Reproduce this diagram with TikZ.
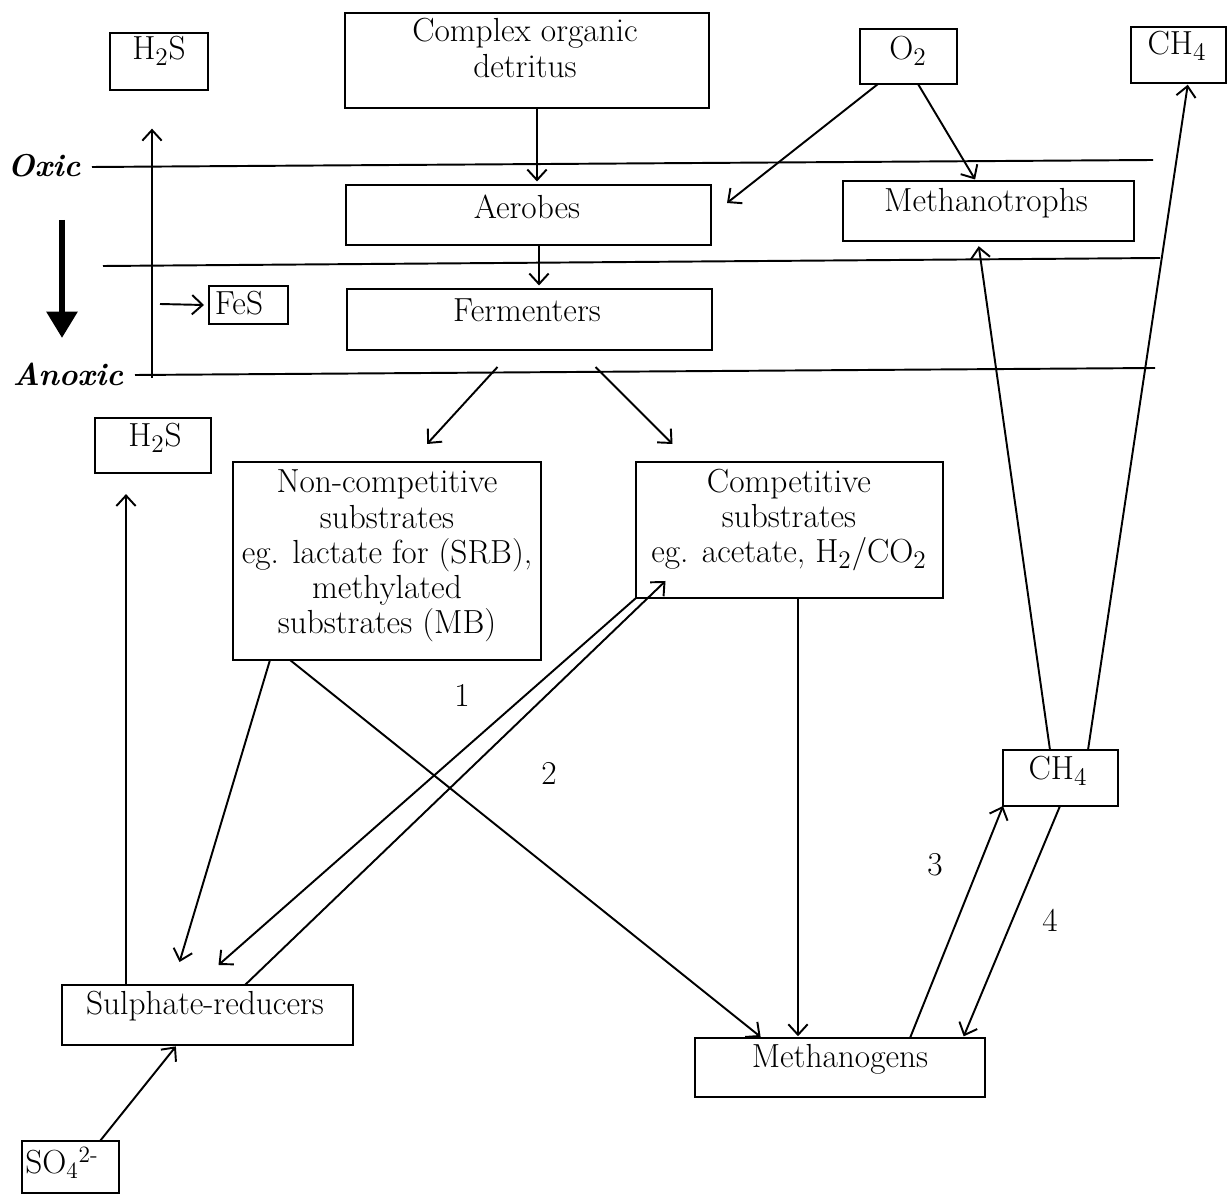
\documentclass[tikz,border=0pt]{standalone}
\usetikzlibrary{arrows.meta,fit,calc}
\begin{document}
\begin{tikzpicture}[x=0.02cm,y=-0.02cm,
  box/.style={draw, line width=1.1pt, inner sep=0pt, outer sep=0pt},
  txt/.style={font=\fontsize{19}{20}\selectfont, align=center, inner sep=0pt},
  zone/.style={font=\fontsize{18}{19.5}\selectfont\bfseries\itshape, inner sep=0pt},
  num/.style={font=\fontsize{19}{20}\selectfont, inner sep=0pt},
  conn/.style={line width=1.1pt, -{Straight Barb[length=6pt,width=11pt,line width=1.1pt]}},
  layer/.style={line width=1.1pt}]
\useasboundingbox (0,0) rectangle (1227,1195);

% boxes
\node[box, fit={(110,33) (208,90)}] (h2st) {};
\node[box, fit={(345,13) (709,108)}] (cod) {};
\node[box, fit={(860,29) (957,84)}] (o2) {};
\node[box, fit={(1131,27) (1226,83)}] (ch4t) {};
\node[box, fit={(346,185) (711,245)}] (aer) {};
\node[box, fit={(843,181) (1134,241)}] (mt) {};
\node[box, fit={(347,289) (712,350)}] (fer) {};
\node[box, fit={(209,286) (288,324)}] (fes) {};
\node[box, fit={(95,418) (211,473)}] (h2sb) {};
\node[box, fit={(233,462) (541,660)}] (nc) {};
\node[box, fit={(636,462) (943,598)}] (cs) {};
\node[box, fit={(1003,750) (1118,806)}] (ch4m) {};
\node[box, fit={(62,985) (353,1045)}] (sr) {};
\node[box, fit={(695,1038) (985,1097)}] (mg) {};
\node[box, fit={(22,1141) (119,1193)}] (so4) {};

% texts
\node[txt] (h2st-t) at (159,51) {H$_2$S};
\node[txt] (cod-t) at (525,48) {Complex organic\\detritus};
\node[txt] (o2-t) at (908,51) {O$_2$};
\node[txt] (ch4t-t) at (1177,46) {CH$_4$};
\node[txt] (aer-t) at (527,207) {Aerobes};
\node[txt] (mt-t) at (986,203) {Methanotrophs};
\node[txt] (fer-t) at (527,310) {Fermenters};
\node[txt] (fes-t) at (239,303) {FeS};
\node[txt] (h2sb-t) at (155,438) {H$_2$S};
\node[txt] (nc-t) at (387,556) {Non-competitive\\substrates\\eg. lactate for (SRB),\\methylated\\substrates (MB)};
\node[txt] (cs-t) at (789,520) {Competitive\\substrates\\eg. acetate, H$_2$/CO$_2$};
\node[txt] (ch4m-t) at (1058,771) {CH$_4$};
\node[txt] (sr-t) at (205,1006) {Sulphate-reducers};
\node[txt] (mg-t) at (840,1059) {Methanogens};
\node[txt] (so4-t) at (62,1163) {SO\textsubscript{4}\textsuperscript{2-}};

\node[zone] (oxic) at (44,166) {Oxic};
\node[zone] (anoxic) at (68,374) {Anoxic};

\node[num] (n1) at (462,695) {1};
\node[num] (n2) at (549,773) {2};
\node[num] (n3) at (935,865) {3};
\node[num] (n4) at (1050,920) {4};

% layer lines
\coordinate (oxL) at (92,167);
\coordinate (oxR) at (1153,160);
\coordinate (midL) at (103,266);
\coordinate (midR) at (1160,258);
\coordinate (anL) at (135,375);
\coordinate (anR) at (1155,368);
\draw[layer] (oxL) -- (oxR);
\draw[layer] (midL) -- (midR);
\draw[layer] (anL) -- (anR);

% thick arrow
\coordinate (thA) at (62,220);
\coordinate (thB) at (62,338);
\draw[line width=3.5pt, -{Triangle[length=15pt,width=17pt]}] (thA) -- (thB);

% H2S upward arrow and FeS
\coordinate (h2sstart) at (152,378);
\draw[conn, shorten >=20\pgflinewidth] (h2sstart) -- (152,0 |- h2st.south);
\coordinate (fesstart) at (160,304);
\draw[conn] (fesstart) -- ($(fes.west)+(-5,0)$);

% top connectors
\draw[conn, shorten >=2pt] (537,0 |- cod.south) -- (537,0 |- aer.north);
\draw[conn, shorten >=2pt] (539,0 |- aer.south) -- (539,0 |- fer.north);
\draw[conn] (878,0 |- o2.south) -- ($(aer.east)+(16,-12)$);
\draw[conn, shorten >=1pt] (918,0 |- o2.south) -- (976,0 |- mt.north);

% fermenters split
\draw[conn] ($(fer.south)+(-32,17)$) -- ($(nc.north)+(40,-18)$);
\draw[conn] ($(fer.south)+(66,17)$) -- ($(cs.north)+(-117,-18)$);

% lower connectors
\draw[conn, shorten >=12pt] (126,0 |- sr.north) -- (126,0 |- h2sb.south);
\draw[conn] (270,0 |- nc.south) -- ($(sr.north)+(-28,-23)$);
\draw[conn, shorten >=1pt] (290,0 |- nc.south) -- (762,0 |- mg.north);
\draw[conn] (245,0 |- sr.north) -- ($(cs.south)+(-124,-17)$);
\draw[conn] (cs.south west) -- ($(sr.north)+(11,-20)$);
\draw[conn, shorten >=1pt] (798,0 |- cs.south) -- (798,0 |- mg.north);
\draw[conn] (910,0 |- mg.north) -- (ch4m.south west);
\draw[conn, shorten >=1pt] (1060,0 |- ch4m.south) -- (963,0 |- mg.north);
\draw[conn, shorten >=3pt] (1050,0 |- ch4m.north) -- (978,0 |- mt.south);
\draw[conn, shorten >=1pt] (1088,0 |- ch4m.north) -- (1188,0 |- ch4t.south);
\draw[conn, shorten >=1pt] (100,0 |- so4.north) -- (177,0 |- sr.south);
\end{tikzpicture}
\end{document}
